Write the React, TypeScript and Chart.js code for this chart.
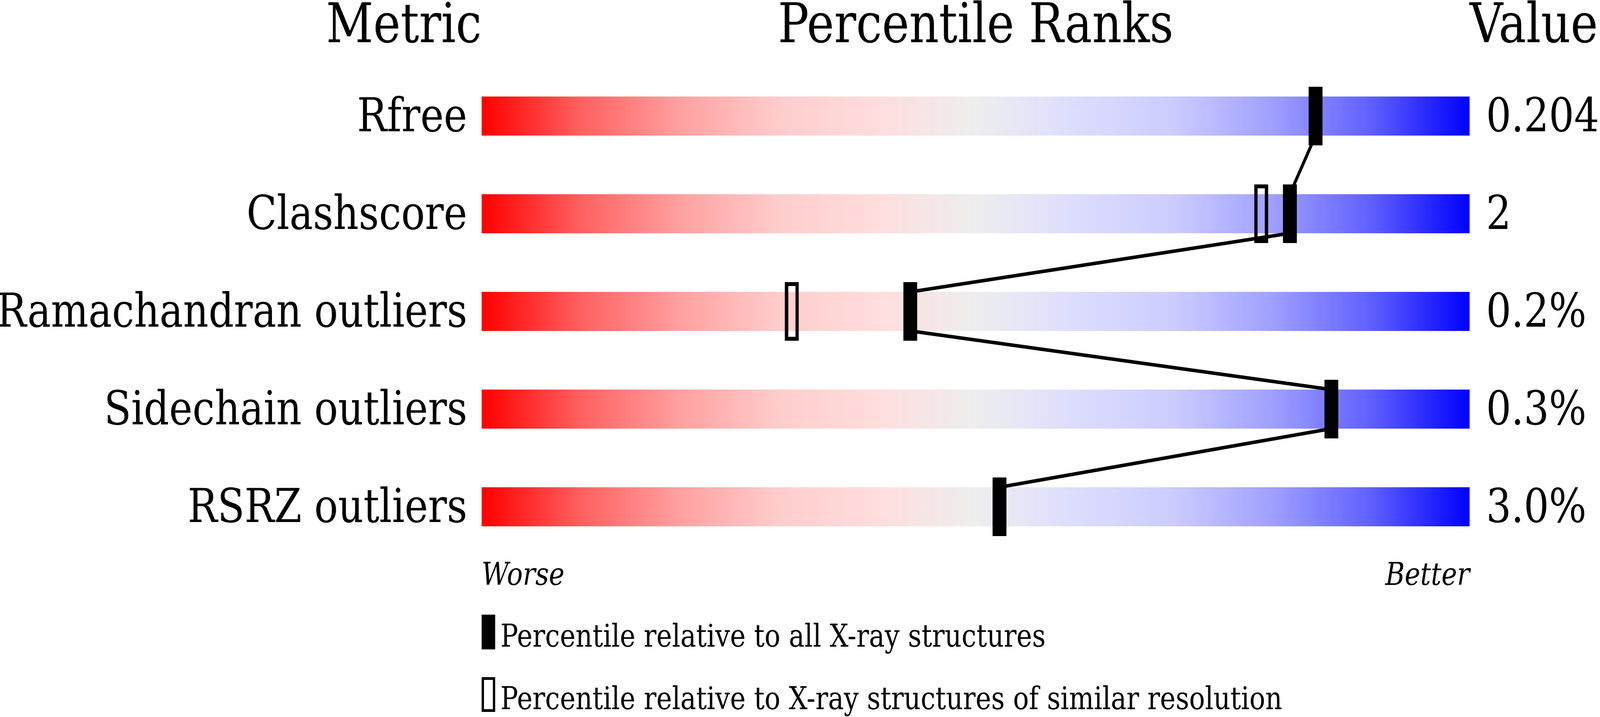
import React, { useEffect, useRef } from 'react'
import { Chart, registerables } from 'chart.js'

Chart.register(...registerables)

// rows of the slider chart, top to bottom
const metrics = ['Rfree', 'Clashscore', 'Ramachandran outliers', 'Sidechain outliers', 'RSRZ outliers']
const values = ['0.204', '2', '0.2%', '0.3%', '3.0%']
// percentile relative to all X-ray structures
const pctAll = [84.4, 81.8, 43.4, 86.0, 52.4]
// percentile relative to structures of similar resolution (null = not shown)
const pctSimilar: (number | null)[] = [null, 78.9, 31.4, null, null]

const legendLabels = [
  'Percentile relative to all X-ray structures',
  'Percentile relative to X-ray structures of similar resolution'
]

const gradientStops: [number, string][] = [
  [0, '#ff0000'],
  [0.1, '#ff6060'],
  [0.2, '#ffa0a0'],
  [0.3, '#ffcccc'],
  [0.4, '#ffdddd'],
  [0.5, '#eeeeee'],
  [0.6, '#ddddff'],
  [0.7, '#ccccff'],
  [0.8, '#a0a0ff'],
  [0.9, '#6060ff'],
  [1, '#0000ff']
]

const FONT = "'DejaVu Serif', serif"
const W = 4860
const H = 1835

function makeMarker(w: number, h: number, lw: number, filled: boolean) {
  const c = document.createElement('canvas')
  c.width = w
  c.height = h
  const g = c.getContext('2d')!
  g.fillStyle = '#000'
  g.strokeStyle = '#000'
  if (filled) {
    g.fillRect(0, 0, w, h)
  } else {
    g.lineWidth = lw
    g.strokeRect(lw / 2, lw / 2, w - lw, h - lw)
  }
  return c
}

const decorPlugin = {
  id: 'decor',
  beforeDatasetDraw(chart: any, args: any) {
    // connecting line between the "all structures" markers
    if (args.meta.label !== 'all') return
    const bars = chart.getDatasetMeta(0).data
    const pts = args.meta.data
    const ctx = chart.ctx
    ctx.save()
    ctx.strokeStyle = '#000'
    ctx.lineWidth = 9
    ctx.beginPath()
    for (let i = 0; i < pts.length - 1; i++) {
      const b0 = bars[i].getProps(['y', 'height'], true)
      const b1 = bars[i + 1].getProps(['y', 'height'], true)
      ctx.moveTo(pts[i].x, b0.y + b0.height / 2)
      ctx.lineTo(pts[i + 1].x, b1.y - b1.height / 2)
    }
    ctx.stroke()
    ctx.restore()
  },
  afterDraw(chart: any) {
    const { ctx, chartArea: a } = chart
    ctx.save()
    ctx.fillStyle = '#000'
    ctx.textBaseline = 'alphabetic'
    ctx.font = `140px ${FONT}`
    const hy = a.top - 64
    ctx.textAlign = 'right'
    ctx.fillText('Metric', a.left, hy)
    ctx.textAlign = 'center'
    ctx.fillText('Percentile Ranks', (a.left + a.right) / 2, hy)
    ctx.textAlign = 'left'
    ctx.fillText('Value', a.right, hy)

    ctx.font = `italic 80px ${FONT}`
    ctx.textAlign = 'left'
    ctx.fillText('Worse', a.left, a.bottom + 75)
    ctx.textAlign = 'right'
    ctx.fillText('Better', a.right, a.bottom + 75)

    // legend
    ctx.font = `80px ${FONT}`
    ctx.textAlign = 'left'
    ctx.fillRect(a.left, a.bottom + 151, 41, 89)
    ctx.fillText(legendLabels[0], a.left + 57, a.bottom + 233)
    ctx.lineWidth = 7
    ctx.strokeStyle = '#000'
    ctx.strokeRect(a.left + 3.5, a.bottom + 314.5, 34, 82)
    ctx.fillText(legendLabels[1], a.left + 57, a.bottom + 393)
    ctx.restore()
  }
}

export default function App() {
  const canvasRef = useRef<HTMLCanvasElement | null>(null)

  useEffect(() => {
    document.body.style.margin = '0'
    document.body.style.overflow = 'hidden'
    const el = canvasRef.current
    if (!el) return

    const filledImg = makeMarker(42, 150, 10, true)
    const openImg = makeMarker(42, 150, 10, false)

    const tickFont = { family: FONT, size: 120 }

    const chart = new Chart(el, {
      type: 'bar',
      data: {
        labels: metrics,
        datasets: [
          {
            type: 'bar',
            label: 'range',
            indexAxis: 'y',
            data: metrics.map(() => [0, 100]),
            backgroundColor: (c: any) => {
              const a = c.chart.chartArea
              if (!a) return '#eeeeee'
              const g = c.chart.ctx.createLinearGradient(a.left, 0, a.right, 0)
              gradientStops.forEach(([o, col]) => g.addColorStop(o, col))
              return g
            },
            borderWidth: 0,
            categoryPercentage: 1,
            barPercentage: 0.4,
            xAxisID: 'x',
            yAxisID: 'y',
            order: 3
          } as any,
          {
            type: 'scatter',
            label: 'similar',
            data: metrics
              .map((m, i) => ({ x: pctSimilar[i], y: m }))
              .filter(p => p.x !== null) as any,
            pointStyle: openImg,
            pointRadius: 1,
            xAxisID: 'x',
            yAxisID: 'y',
            clip: false,
            order: 2
          } as any,
          {
            type: 'scatter',
            label: 'all',
            data: metrics.map((m, i) => ({ x: pctAll[i], y: m })) as any,
            pointStyle: filledImg,
            pointRadius: 1,
            xAxisID: 'x',
            yAxisID: 'y',
            clip: false,
            order: 1
          } as any
        ]
      },
      options: {
        animation: false,
        responsive: false,
        devicePixelRatio: 1,
        layout: { padding: { top: 172, bottom: 413, left: 0, right: 0 } },
        plugins: {
          legend: { display: false },
          tooltip: { enabled: false }
        },
        scales: {
          x: { type: 'linear', min: 0, max: 100, offset: false, display: false },
          y: {
            type: 'category',
            position: 'left',
            offset: true,
            grid: { display: false, drawTicks: false },
            border: { display: false },
            ticks: { color: '#000', font: tickFont, padding: 44, labelOffset: 8, autoSkip: false },
            afterFit: (s: any) => { s.width = 1463 }
          },
          y2: {
            type: 'category',
            axis: 'y',
            position: 'right',
            labels: values,
            offset: true,
            grid: { display: false, drawTicks: false },
            border: { display: false },
            ticks: { color: '#000', font: tickFont, padding: 50, labelOffset: 8, autoSkip: false },
            afterFit: (s: any) => { s.width = 396 }
          }
        }
      } as any,
      plugins: [decorPlugin]
    })

    return () => chart.destroy()
  }, [])

  // the canvas is drawn at 4860x1835 and shown stretched over the whole window
  return (
    <div style={{ width: '100vw', height: '100vh', background: '#fff', overflow: 'hidden' }}>
      <canvas
        ref={canvasRef}
        width={W}
        height={H}
        style={{ display: 'block', width: '100vw', height: '100vh' }}
      ></canvas>
    </div>
  )
}
